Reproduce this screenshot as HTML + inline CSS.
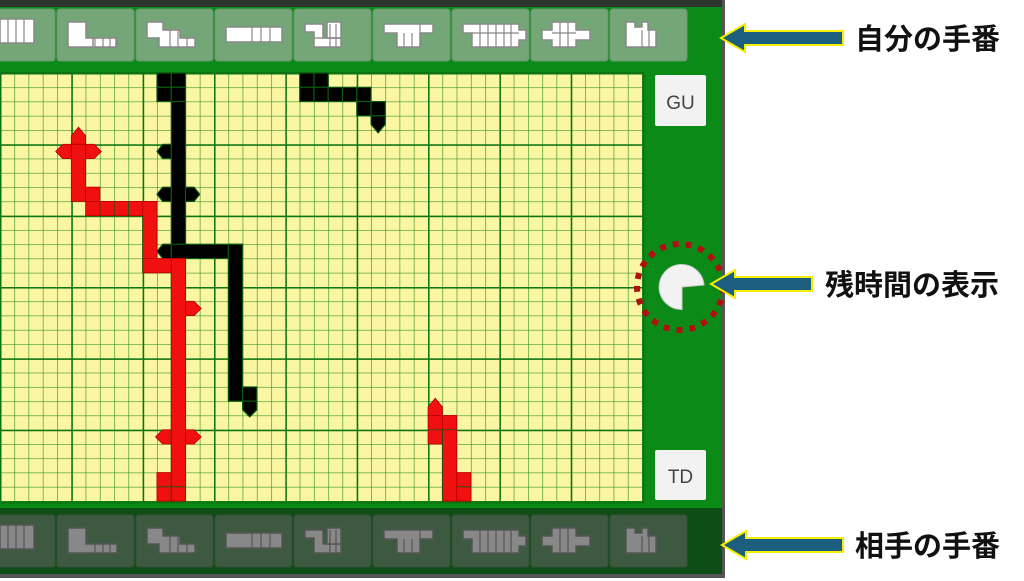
<!DOCTYPE html>
<html><head><meta charset="utf-8"><style>
html,body{margin:0;padding:0;background:#fff;width:1024px;height:581px;overflow:hidden}
svg{display:block}
text.l{font-family:"Liberation Sans","Noto Sans CJK JP",sans-serif;font-weight:bold;font-size:29px;fill:#111}
</style></head><body>
<svg width="1024" height="581" viewBox="0 0 1024 581" xmlns="http://www.w3.org/2000/svg">
<defs>
<pattern id="minor" x="0" y="73" width="14.27" height="14.27" patternUnits="userSpaceOnUse">
<rect width="14.27" height="14.27" fill="#fbf6a2"/>
<path d="M0 0V14.27M0 0H14.27" stroke="#3a9628" stroke-width="1.3" fill="none"/>
</pattern>
<pattern id="major" x="0" y="73" width="71.35" height="71.35" patternUnits="userSpaceOnUse">
<path d="M0 0V71.35M0 0H71.35" stroke="#0b7412" stroke-width="3" fill="none"/>
</pattern>
</defs>
<rect x="0" y="0" width="724" height="578" fill="#0c8a17"/>
<rect x="0" y="0" width="724" height="7" fill="#2e342e"/>
<rect x="722" y="0" width="3" height="578" fill="#555"/>
<rect x="0" y="508" width="722" height="66" fill="#0e4d13"/>
<rect x="0" y="574" width="725" height="4" fill="#555"/>
<g fill="#74a677" stroke="#6a9a6c" stroke-width="1">
<rect x="-5" y="9" width="60" height="52" rx="3"/>
<rect x="57" y="9" width="77" height="52" rx="3"/>
<rect x="136" y="9" width="77" height="52" rx="3"/>
<rect x="215" y="9" width="77" height="52" rx="3"/>
<rect x="294" y="9" width="77" height="52" rx="3"/>
<rect x="373" y="9" width="77" height="52" rx="3"/>
<rect x="452" y="9" width="77" height="52" rx="3"/>
<rect x="531" y="9" width="77" height="52" rx="3"/>
<rect x="610" y="9" width="77" height="52" rx="3"/>
</g>
<g fill="#3d5a40" stroke="#35503a" stroke-width="1">
<rect x="-5" y="515" width="60" height="52" rx="3"/>
<rect x="57" y="515" width="77" height="52" rx="3"/>
<rect x="136" y="515" width="77" height="52" rx="3"/>
<rect x="215" y="515" width="77" height="52" rx="3"/>
<rect x="294" y="515" width="77" height="52" rx="3"/>
<rect x="373" y="515" width="77" height="52" rx="3"/>
<rect x="452" y="515" width="77" height="52" rx="3"/>
<rect x="531" y="515" width="77" height="52" rx="3"/>
<rect x="610" y="515" width="77" height="52" rx="3"/>
</g>
<g fill="#fff" stroke="#888" stroke-width="1.5">
<path d="M0 19H34V43H0Z"/>
<path d="M68 22H86V38H117V47H68Z"/><rect x="93" y="38" width="23" height="9"/>
<path d="M147 22H163V30H180V38H195V47H159V38H147Z"/>
<path d="M226 27H282V42H226Z"/>
<path d="M305 24H323V38H341V47H314V32H305Z"/><rect x="327" y="22" width="14" height="16"/>
<path d="M384 24H433V33H420V47H397V33H384Z"/>
<path d="M463 24H519V30H526V40H519V47H472V33H463Z"/>
<path d="M542 30H552V22H576V30H590V40H576V47H552V40H542Z"/>
<path d="M626 22H635V27H642V22H648V30H656V47H626Z"/>
</g>
<g stroke="#888" stroke-width="1.2">
<path d="M8 19V43M16 19V43M24 19V43M95 38V47M103 38V47M110 38V47M170 30V47M178 30V47M187 38V47M252 27V42M261 27V42M270 27V42M330 24V47M336 24V47M404 33V47M412 33V47M420 24V33M480 24V47M488 24V47M496 24V47M504 24V47M511 24V47M560 22V47M568 22V47M642 30V47M649 30V47M472 33H519M552 33H576M314 38H341"/>
</g>
<g fill="#888" stroke="#555" stroke-width="1.5">
<path d="M0 525H34V549H0Z"/>
<path d="M68 528H86V544H117V553H68Z"/>
<path d="M147 528H163V536H180V544H195V553H159V544H147Z"/>
<path d="M226 533H282V548H226Z"/>
<path d="M305 530H323V544H341V553H314V538H305Z"/><rect x="327" y="528" width="14" height="16"/>
<path d="M384 530H433V539H420V553H397V539H384Z"/>
<path d="M463 530H519V536H526V546H519V553H472V539H463Z"/>
<path d="M542 536H552V528H576V536H590V546H576V553H552V546H542Z"/>
<path d="M626 528H635V533H642V528H648V536H656V553H626Z"/>
</g>
<g stroke="#555" stroke-width="1.2">
<path d="M8 525V549M16 525V549M24 525V549M95 544V553M103 544V553M110 544V553M170 536V553M178 536V553M187 544V553M252 533V548M261 533V548M270 533V548M330 530V553M336 530V553M404 539V553M412 539V553M420 530V539M480 530V553M488 530V553M496 530V553M504 530V553M511 530V553M560 528V553M568 528V553M642 536V553M649 536V553"/>
</g>
<rect x="0" y="73" width="642.2" height="428.1" fill="url(#minor)"/>
<rect x="0" y="73" width="642.2" height="428.1" fill="url(#major)"/>
<rect x="0" y="73" width="643.5" height="429.5" fill="none" stroke="#0b7412" stroke-width="2"/>
<g transform="translate(0,73) scale(14.27)">
<g fill="#000" stroke="#0b5a10" stroke-width="0.08">
<rect x="11" y="0" width="1" height="1"/><rect x="12" y="0" width="1" height="1"/>
<rect x="11" y="1" width="1" height="1"/><rect x="12" y="1" width="1" height="1"/>
<rect x="12" y="2" width="1" height="11"/>
<rect x="12" y="12" width="5" height="1"/>
<rect x="16" y="12" width="1" height="11"/>
<rect x="17" y="22" width="1" height="1"/>
<polygon points="17,23 18,23 18,23.6 17.5,24.1 17,23.6"/>
<polygon points="12,5 11.4,5 11,5.5 11.4,6 12,6"/>
<polygon points="12,8 11.4,8 11,8.5 11.4,9 12,9"/>
<polygon points="13,8 13.6,8 14,8.5 13.6,9 13,9"/>
<polygon points="12,12 11.4,12 11,12.5 11.4,13 12,13"/>
<rect x="21" y="0" width="1" height="1"/><rect x="22" y="0" width="1" height="1"/>
<rect x="21" y="1" width="1" height="1"/><rect x="22" y="1" width="1" height="1"/>
<rect x="23" y="1" width="1" height="1"/><rect x="24" y="1" width="1" height="1"/>
<rect x="25" y="1" width="1" height="1"/><rect x="25" y="2" width="1" height="1"/>
<rect x="26" y="2" width="1" height="1"/>
<polygon points="26,3 27,3 27,3.6 26.5,4.2 26,3.6"/>
</g>
<g fill="#f01010" stroke="#b00" stroke-width="0.06">
<polygon points="5,5 5,4.4 5.5,3.8 6,4.4 6,5"/>
<polygon points="5,5 4.4,5 3.9,5.5 4.4,6 5,6"/>
<polygon points="6,5 6.6,5 7.1,5.5 6.6,6 6,6"/>
<rect x="5" y="5" width="1" height="4"/>
<rect x="6" y="8" width="1" height="1"/>
<rect x="6" y="9" width="5" height="1"/>
<rect x="10" y="9" width="1" height="5"/>
<rect x="10" y="13" width="3" height="1"/>
<rect x="12" y="13" width="1" height="17"/>
<polygon points="13,16 13.6,16 14.1,16.5 13.6,17 13,17"/>
<polygon points="12,25 11.4,25 10.9,25.5 11.4,26 12,26"/>
<polygon points="13,25 13.6,25 14.1,25.5 13.6,26 13,26"/>
<rect x="11" y="28" width="1" height="2"/>
<polygon points="30,24 30,23.4 30.5,22.8 31,23.4 31,24"/>
<rect x="30" y="24" width="1" height="2"/>
<rect x="31" y="24" width="1" height="6"/>
<rect x="32" y="28" width="1" height="2"/>
</g>
<g fill="none" stroke="#0b5a10" stroke-width="0.06">
<path d="M12 14V30M11 29H13M31 25V30M30 25H32M32 29H33M10 10V14M7 9V10M8 9V10M9 9V10"/>
</g>
</g>
<rect x="655" y="75" width="51" height="51" rx="2" fill="#f2f2f2"/>
<text x="680.5" y="109" font-family="Liberation Sans,sans-serif" font-size="19" fill="#444" text-anchor="middle">GU</text>
<rect x="655" y="450" width="51" height="50" rx="2" fill="#f2f2f2"/>
<text x="680.5" y="483" font-family="Liberation Sans,sans-serif" font-size="19" fill="#444" text-anchor="middle">TD</text>
<circle cx="680" cy="287" r="43" fill="none" stroke="#b01010" stroke-width="6" stroke-dasharray="6 7"/>
<path d="M682 287 L704 285 A22.5 22.5 0 1 0 682 309.5 Z" fill="#f2f2f2" stroke="#ccc" stroke-width="1"/>
<g fill="#1b5e7e" stroke="#f4ee00" stroke-width="2" stroke-linejoin="miter">
<polygon points="721,38 745,24 745,31 843,31 843,45 745,45 745,52"/>
<polygon points="711,284 735,270 735,277 812,277 812,291 735,291 735,298"/>
<polygon points="722,545 746,531 746,538 843,538 843,552 746,552 746,559"/>
</g>
<text class="l" x="855" y="49">自分の手番</text>
<text class="l" x="825" y="295">残時間の表示</text>
<text class="l" x="855" y="556">相手の手番</text>
</svg>
</body></html>
